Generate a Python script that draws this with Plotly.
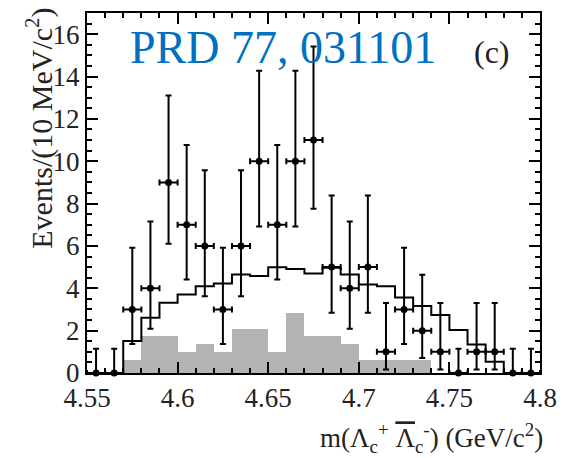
import plotly.graph_objects as go

# bin centres (GeV/c^2), 10 MeV bins
bin_centers = [4.555, 4.565, 4.575, 4.585, 4.595, 4.605, 4.615, 4.625, 4.635, 4.645,
               4.655, 4.665, 4.675, 4.685, 4.695, 4.705, 4.715, 4.725, 4.735, 4.745,
               4.755, 4.765, 4.775, 4.785, 4.795]
# data points
counts = [0, 0, 3, 4, 9, 7, 6, 3, 6, 10, 7, 10, 11, 5, 4, 5, 1, 3, 2, 1, 0, 1, 1, 0, 0]
err_up = [1.15, 1.15, 2.92, 3.16, 4.11, 3.77, 3.58, 2.92, 3.58, 4.27, 3.77, 4.27, 4.42,
          3.38, 3.16, 3.38, 2.30, 2.92, 2.64, 2.30, 1.15, 2.30, 2.30, 1.15, 1.15]
err_dn = [0, 0, 1.63, 1.91, 2.90, 2.58, 2.38, 1.63, 2.38, 3.08, 2.58, 3.08, 3.24,
          2.16, 1.91, 2.16, 0.83, 1.63, 1.29, 0.83, 0, 0.83, 0.83, 0, 0]
# expectation (solid step line)
line_hist = [0, 0, 1.51, 2.61, 3.32, 3.71, 4.10, 4.23, 4.65, 4.58, 4.99, 4.91, 4.70,
             4.97, 4.65, 4.18, 4.10, 3.57, 3.16, 2.74, 2.03, 1.35, 0.53, 0, 0]
# background (grey filled)
bkg_hist = [0, 0, 0.61, 1.75, 1.75, 0.97, 1.37, 0.97, 2.09, 2.09, 0.97, 2.81, 1.75,
            1.75, 1.35, 0.61, 0.61, 0.61, 0.61, 0, 0, 0, 0, 0, 0]
bin_width = 0.01
x_ticks = [4.55, 4.6, 4.65, 4.7, 4.75, 4.8]
x_ticktext = ["4.55", "4.6", "4.65", "4.7", "4.75", "4.8"]
y_ticks = [0, 2, 4, 6, 8, 10, 12, 14, 16]

edges = [c - bin_width / 2 for c in bin_centers] + [bin_centers[-1] + bin_width / 2]
step_y = line_hist + [line_hist[-1]]

SERIF = "Liberation Serif, Times New Roman, serif"

fig = go.Figure()
fig.add_trace(go.Bar(x=bin_centers, y=bkg_hist, width=bin_width,
                     marker=dict(color="#b3b3b3", line=dict(width=0)),
                     showlegend=False))
fig.add_trace(go.Scatter(x=edges, y=step_y, mode="lines",
                         line=dict(color="black", width=2, shape="hv"),
                         showlegend=False))
fig.add_trace(go.Scatter(
    x=bin_centers, y=counts, mode="markers",
    marker=dict(color="black", size=7),
    error_y=dict(type="data", array=err_up, arrayminus=err_dn, symmetric=False,
                 color="black", thickness=2, width=3),
    error_x=dict(type="constant", value=bin_width / 2, color="black", thickness=2, width=3),
    showlegend=False, cliponaxis=False))

axis_common = dict(showline=True, linewidth=2, linecolor="black", mirror="allticks",
                   ticks="inside", tickwidth=2, tickcolor="black", showgrid=False,
                   zeroline=False,
                   tickfont=dict(family=SERIF, size=27, color="#222"))

fig.update_xaxes(range=[4.55, 4.8], tickvals=x_ticks, ticktext=x_ticktext, ticklen=11,
                 minor=dict(dtick=0.01, ticklen=5, tickwidth=2, ticks="inside",
                            tickcolor="black", showgrid=False),
                 **axis_common)
fig.update_yaxes(range=[0, 17], tickvals=y_ticks, ticklen=11,
                 minor=dict(dtick=0.5, ticklen=5, tickwidth=2, ticks="inside",
                            tickcolor="black", showgrid=False),
                 **axis_common)

fig.add_annotation(text="Events/(10 MeV/c<sup>2</sup>)", textangle=-90,
                   xref="paper", yref="paper", x=-0.105, y=1.02,
                   xanchor="center", yanchor="top", showarrow=False,
                   font=dict(family=SERIF, size=30, color="#222"))
fig.add_annotation(text="m(Λ<sub>c</sub><sup>+</sup> <span style='text-decoration:overline'>Λ</span><sub>c</sub><sup>-</sup>) (GeV/c<sup>2</sup>)",
                   xref="paper", yref="paper", x=1.012, y=-0.18,
                   xanchor="right", yanchor="middle", showarrow=False,
                   font=dict(family=SERIF, size=27, color="#222"))
fig.add_annotation(text="PRD 77, 031101", xref="paper", yref="paper",
                   x=(128 - 87) / 453, y=(373 - 48) / 360, xanchor="left", yanchor="middle",
                   showarrow=False, font=dict(family=SERIF, size=46, color="#0070c0"))
fig.add_annotation(text="(c)", xref="paper", yref="paper",
                   x=(492 - 87) / 453, y=(373 - 52) / 360, xanchor="center", yanchor="middle",
                   showarrow=False, font=dict(family=SERIF, size=32, color="#222"))

fig.update_layout(width=571, height=458, margin=dict(l=87, r=31, t=13, b=85),
                  paper_bgcolor="white", plot_bgcolor="white", bargap=0)
fig.write_html("out.html")
